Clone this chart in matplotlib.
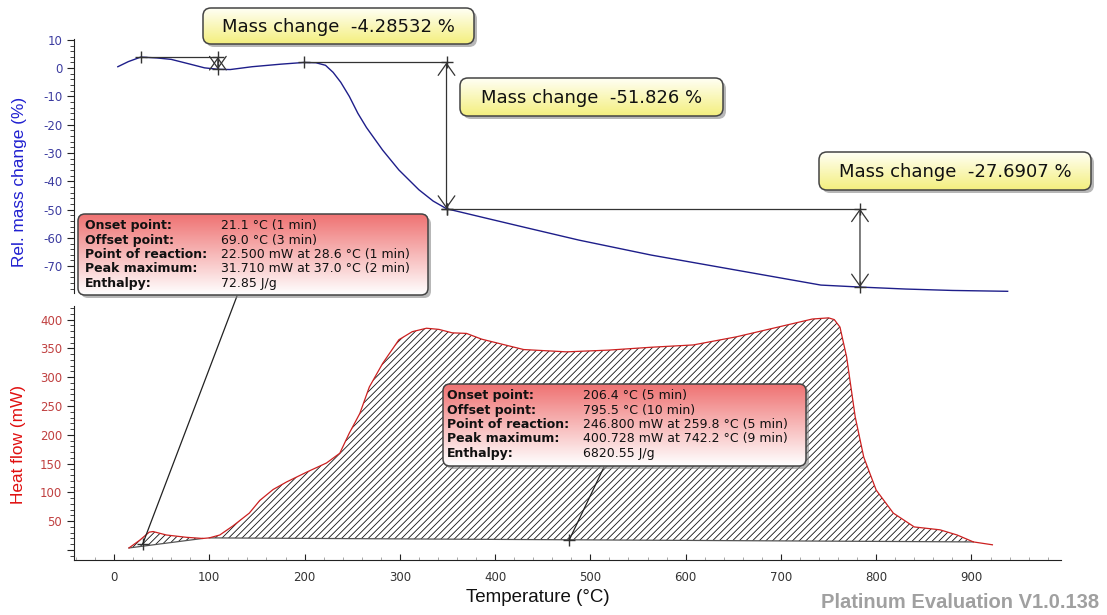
import numpy as np
import matplotlib
matplotlib.use('Agg')
import matplotlib.pyplot as plt
from matplotlib.patches import FancyBboxPatch, ConnectionPatch
from matplotlib.colors import LinearSegmentedColormap
from matplotlib.ticker import MultipleLocator

# --- DATA ---
# TG curve: temperature (°C) vs relative mass change (%)
tg_temp = [4, 15, 28, 45, 60, 80, 95, 109, 122, 145, 175, 199, 212, 222, 230, 238, 247,
           256, 265, 282, 299, 320, 335, 349, 390, 430, 488, 564, 653, 742, 783,
           831, 880, 938]
tg_mass = [0.5, 2.3, 3.9, 3.6, 3.1, 1.4, 0.1, -0.4, -0.5, 0.5, 1.4, 2.0, 1.9, 1.0, -1.5, -5,
           -10, -16, -21, -29, -36, -43, -47, -49.7, -53, -56.2, -60.8, -66.1, -71.4,
           -76.7, -77.4, -78.1, -78.6, -78.9]

# DSC curve: temperature (°C) vs heat flow (mW)
dsc_temp = [15.7, 27, 37, 41, 55, 76, 93, 100, 111, 125, 142, 153, 167, 181, 202, 223,
            237, 247, 258, 268, 282, 299, 313, 328, 341, 355, 370, 386, 430, 475, 519,
            564, 608, 653, 697, 733, 750, 756, 762, 769, 778, 787, 800, 818, 840, 867, 885,
            902, 922]
dsc_flow = [3.5, 17, 31, 32, 26, 22, 20, 21, 26, 42, 64, 86, 105, 118, 135, 151,
            168, 203, 237, 283, 324, 365, 379, 385, 383, 377, 376, 366, 348, 344, 347,
            352, 356, 370, 387, 401, 403, 400, 387, 335, 231, 161, 104, 64, 40, 35, 26,
            14, 9]

# integration ranges of the two peaks (°C)
peak1_range = (15.7, 93)
peak2_range = (100, 902)

# mass change steps: start of reference line, arrow position, upper / lower level
step_from = [28, 199, 349]
step_at = [109, 349, 783]
step_top = [3.9, 2.0, -49.7]
step_bottom = [-0.4, -49.7, -77.4]
step_values = ['-4.28532', '-51.826', '-27.6907']

info_labels = ['Onset point:', 'Offset point:', 'Point of reaction:', 'Peak maximum:', 'Enthalpy:']
peak1_values = ['21.1 °C (1 min)', '69.0 °C (3 min)', '22.500 mW at 28.6 °C (1 min)',
                '31.710 mW at 37.0 °C (2 min)', '72.85 J/g']
peak2_values = ['206.4 °C (5 min)', '795.5 °C (10 min)', '246.800 mW at 259.8 °C (5 min)',
                '400.728 mW at 742.2 °C (9 min)', '6820.55 J/g']
peak1_point = (30, 10)
peak2_point = (478, 18)

x_ticks = list(range(0, 1000, 100))
tg_ticks = list(range(-70, 11, 10))
dsc_ticks = list(range(0, 401, 50))

plt.rcParams['axes.unicode_minus'] = False
plt.rcParams['hatch.linewidth'] = 0.6
plt.rcParams['font.family'] = 'DejaVu Sans'

TG_COLOR = '#1e1e8a'
DSC_COLOR = '#cc2020'
GRAY = '#333333'


def draw_box(ax, x0, y0, x1, y1, c_top, c_bottom, radius=8):
    w, h = x1 - x0, y1 - y0
    style = f"round,pad=0,rounding_size={radius}"
    shadow = FancyBboxPatch((x0 + 3, y0 + 3), w, h, boxstyle=style,
                            fc='#888888', ec='none', alpha=0.6, zorder=1)
    ax.add_patch(shadow)
    # white base so the shadow does not show through
    base = FancyBboxPatch((x0, y0), w, h, boxstyle=style, fc='white', ec='none', zorder=2)
    ax.add_patch(base)
    frame = FancyBboxPatch((x0, y0), w, h, boxstyle=style, fc='none', ec='#444444',
                           lw=1.1, zorder=4)
    ax.add_patch(frame)
    cmap = LinearSegmentedColormap.from_list('grad', [c_top, c_bottom])
    grad = np.linspace(0, 1, 64).reshape(-1, 1)
    im = ax.imshow(grad, extent=(x0, x1, y1, y0), cmap=cmap, aspect='auto',
                   interpolation='bilinear', zorder=3)
    im.set_clip_path(base)


fig = plt.figure(figsize=(11.07, 6.15), dpi=100)
ax_tg = fig.add_axes([74 / 1107, 1 - 293 / 615, 987 / 1107, 254 / 615])
ax_dsc = fig.add_axes([74 / 1107, 1 - 560 / 615, 987 / 1107, 254 / 615])

xlim = (-42, 994)

# --- TG panel ---
ax_tg.plot(tg_temp, tg_mass, color=TG_COLOR, lw=1.0)
for i in range(len(step_at)):
    ax_tg.plot([step_from[i], step_at[i]], [step_top[i], step_top[i]], color=GRAY, lw=0.9)
    ax_tg.annotate('', xy=(step_at[i], step_bottom[i]), xytext=(step_at[i], step_top[i]),
                   arrowprops=dict(arrowstyle='<->,head_length=0.85,head_width=0.6',
                                   color=GRAY, lw=0.9, shrinkA=0, shrinkB=0))
    ax_tg.plot([step_from[i], step_at[i], step_at[i]],
               [step_top[i], step_top[i], step_bottom[i]],
               ls='none', marker='+', ms=8, mew=1.0, color=GRAY)
ax_tg.set_xlim(xlim)
ax_tg.set_ylim(-79.5, 10.3)
ax_tg.set_yticks(tg_ticks)
ax_tg.yaxis.set_minor_locator(MultipleLocator(2))
ax_tg.set_xticks([])
for s in ['top', 'right', 'bottom']:
    ax_tg.spines[s].set_visible(False)
ax_tg.spines['left'].set_color('#222222')
ax_tg.tick_params(axis='y', which='major', length=5, color='#222222',
                  labelsize=8.5, labelcolor='#3c3ca0')
ax_tg.tick_params(axis='y', which='minor', length=3, color='#222222')
ax_tg.patch.set_visible(False)

# --- DSC panel ---
ax_dsc.plot(dsc_temp, dsc_flow, color=DSC_COLOR, lw=0.9, zorder=3)
t_arr = np.array(dsc_temp)
f_arr = np.array(dsc_flow)
for lo, hi in [peak1_range, peak2_range]:
    sel = (t_arr >= lo) & (t_arr <= hi)
    ax_dsc.fill(t_arr[sel], f_arr[sel], facecolor='none', edgecolor='#111111',
                hatch='/////', linewidth=0)
    ax_dsc.plot([t_arr[sel][0], t_arr[sel][-1]], [f_arr[sel][0], f_arr[sel][-1]],
                color='#555555', lw=0.9)
ax_dsc.plot([peak1_point[0], peak2_point[0]], [peak1_point[1], peak2_point[1]],
            ls='none', marker='+', ms=8, mew=1.0, color=GRAY)
ax_dsc.set_xlim(xlim)
ax_dsc.set_ylim(-17.4, 423.6)
ax_dsc.set_yticks(dsc_ticks)
ax_dsc.set_yticklabels([''] + [str(v) for v in dsc_ticks[1:]])
ax_dsc.yaxis.set_minor_locator(MultipleLocator(10))
ax_dsc.set_xticks(x_ticks)
ax_dsc.xaxis.set_minor_locator(MultipleLocator(20))
for s in ['top', 'right']:
    ax_dsc.spines[s].set_visible(False)
ax_dsc.spines['left'].set_color('#222222')
ax_dsc.spines['bottom'].set_color('#222222')
ax_dsc.tick_params(axis='y', which='major', length=5, color='#222222',
                   labelsize=8.5, labelcolor='#c04040')
ax_dsc.tick_params(axis='y', which='minor', length=3, color='#222222')
ax_dsc.tick_params(axis='x', which='major', direction='in', length=4, color='#222222',
                   labelsize=8.5, labelcolor='#333333', pad=8)
ax_dsc.tick_params(axis='x', which='minor', direction='in', length=2, color='#999999')
ax_dsc.patch.set_visible(False)

# --- axis titles ---
fig.text(20 / 1107, 1 - 182 / 615, 'Rel. mass change (%)', rotation=90, ha='center',
         va='center', fontsize=12.4, color='#2020d0', family='Liberation Sans')
fig.text(18 / 1107, 1 - 444 / 615, 'Heat flow (mW)', rotation=90, ha='center',
         va='center', fontsize=12.4, color='#e01010', family='Liberation Sans')
fig.text(538 / 1107, 1 - 598 / 615, 'Temperature (°C)', ha='center', va='center',
         fontsize=13.5, color='#111111', family='Liberation Sans')
fig.text(1099 / 1107, 1 - 603 / 615, 'Platinum Evaluation V1.0.138', ha='right',
         va='center', fontsize=14.5, color='#a0a0a0', fontweight='bold',
         family='Liberation Sans')

# --- overlay with the label boxes (pixel coordinates) ---
ov = fig.add_axes([0, 0, 1, 1], zorder=10)
ov.axis('off')

# leader lines from the peak boxes
for (px, py), pt in [((237, 296), peak1_point), ((604, 467), peak2_point)]:
    con = ConnectionPatch(xyA=(px, py), coordsA=ov.transData, xyB=pt,
                          coordsB=ax_dsc.transData, color='#222222', lw=0.9, zorder=5)
    fig.add_artist(con)

mass_boxes = [(203, 8, 474, 44), (460, 78, 723, 116), (819, 152, 1091, 190)]
for (x0, y0, x1, y1), val in zip(mass_boxes, step_values):
    draw_box(ov, x0, y0, x1, y1, '#fffff4', '#f4ef7e')
    ov.text((x0 + x1) / 2, (y0 + y1) / 2 + 1, f'Mass change  {val} %', ha='center',
            va='center', fontsize=13, color='#111111', zorder=6)

info_boxes = [((78, 214, 428, 295), peak1_values, 85, 221),
              ((443, 384, 806, 466), peak2_values, 447, 583)]
for (x0, y0, x1, y1), values, lx, vx in info_boxes:
    draw_box(ov, x0, y0, x1, y1, '#ef7373', '#ffffff', radius=7)
    for k, (lab, val) in enumerate(zip(info_labels, values)):
        yy = y0 + 12 + k * 14.3
        ov.text(lx, yy, lab, ha='left', va='center', fontsize=9, fontweight='bold',
                color='#111111', zorder=6)
        ov.text(vx, yy, val, ha='left', va='center', fontsize=9, color='#111111',
                zorder=6)

ov.set_xlim(0, 1107)
ov.set_ylim(615, 0)

fig.savefig('out.png', dpi=100)
